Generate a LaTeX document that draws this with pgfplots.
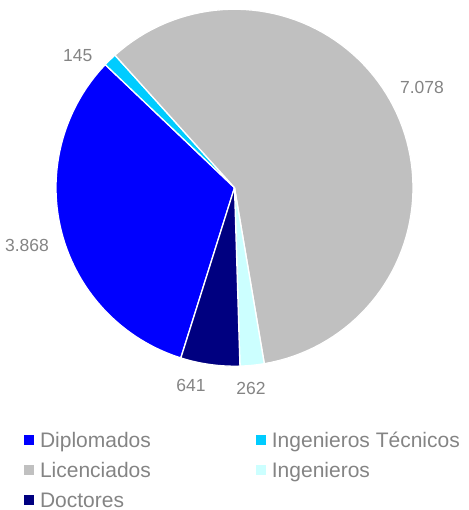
\documentclass[border=0pt]{standalone}
\usepackage{pgfplots}
\pgfplotsset{compat=1.18}
\usepackage{pgfplotstable}
\usepackage{fontspec}
\setmainfont{Liberation Sans}
\definecolor{cDip}{RGB}{0,0,255}
\definecolor{cIT}{RGB}{0,204,255}
\definecolor{cLic}{RGB}{192,192,192}
\definecolor{cIng}{RGB}{204,255,255}
\definecolor{cDoc}{RGB}{0,0,128}
\definecolor{txtgray}{RGB}{132,132,132}

% Values shown on the chart (Diplomados, Ingenieros Tecnicos, Licenciados, Ingenieros, Doctores)
\pgfplotstableread{
value
3868
145
7078
262
641
}\piedata

\newcommand\sector[3]{%
  \addplot[fill=#1, draw=white, line width=1.3bp, line join=round,
    domain=#2:#3, samples=90]
    ({\cx+\R*cos(x)},{\cy-\R*sin(x)}) -- (axis cs:\cx,\cy) -- cycle;}

\begin{document}
\pgfplotstablegetelem{0}{value}\of\piedata\edef\vA{\pgfplotsretval}%
\pgfplotstablegetelem{1}{value}\of\piedata\edef\vB{\pgfplotsretval}%
\pgfplotstablegetelem{2}{value}\of\piedata\edef\vC{\pgfplotsretval}%
\pgfplotstablegetelem{3}{value}\of\piedata\edef\vD{\pgfplotsretval}%
\pgfplotstablegetelem{4}{value}\of\piedata\edef\vE{\pgfplotsretval}%
\pgfmathsetmacro\tot{\vA+\vB+\vC+\vD+\vE}%
\pgfmathsetmacro\aA{252.5}%
\pgfmathsetmacro\aB{\aA-\vA/\tot*360}%
\pgfmathsetmacro\aC{\aB-\vB/\tot*360}%
\pgfmathsetmacro\aD{\aC-\vC/\tot*360}%
\pgfmathsetmacro\aE{\aD-\vD/\tot*360}%
\pgfmathsetmacro\aF{\aE-\vE/\tot*360}%
\def\cx{234.5}\def\cy{187.7}\def\R{178.5}%
\begin{tikzpicture}
\begin{axis}[
  width=468bp, height=510bp, scale only axis,
  xmin=0, xmax=468, ymin=0, ymax=510, y dir=reverse,
  hide axis, clip=false,
  legend columns=2,
  legend image code/.code={\fill[#1, draw=none] (0bp,-5bp) rectangle (10bp,5bp);},
  legend style={at={(axis cs:24,432.5)}, anchor=north west, draw=none, fill=none,
    inner sep=0pt, outer sep=0pt,
    font=\fontsize{21bp}{25bp}\selectfont, text=txtgray,
    row sep=15bp, cells={anchor=west},
    nodes={inner sep=0pt, text height=15bp, text depth=0pt},
    /tikz/every odd column/.append style={column sep=6bp},
    /tikz/every even column/.append style={column sep=105bp}},
]
\path (rel axis cs:0,0) rectangle (rel axis cs:1,1);
\sector{cDip}{\aB}{\aA}
\addlegendentry{Diplomados}
\sector{cIT}{\aC}{\aB}
\addlegendentry{Ingenieros Técnicos}
\sector{cLic}{\aD}{\aC}
\addlegendentry{Licenciados}
\sector{cIng}{\aE}{\aD}
\addlegendentry{Ingenieros}
\sector{cDoc}{\aF}{\aE}
\addlegendentry{Doctores}

\begin{scope}[every node/.style={text=txtgray, font=\fontsize{17.5bp}{21bp}\selectfont}]
\node at (axis cs:77.7,56) {145};
\node at (axis cs:422,87) {7.078};
\node at (axis cs:27,245) {3.868};
\node at (axis cs:191,385) {641};
\node at (axis cs:251,388) {262};
\end{scope}
\end{axis}
\end{tikzpicture}
\end{document}
